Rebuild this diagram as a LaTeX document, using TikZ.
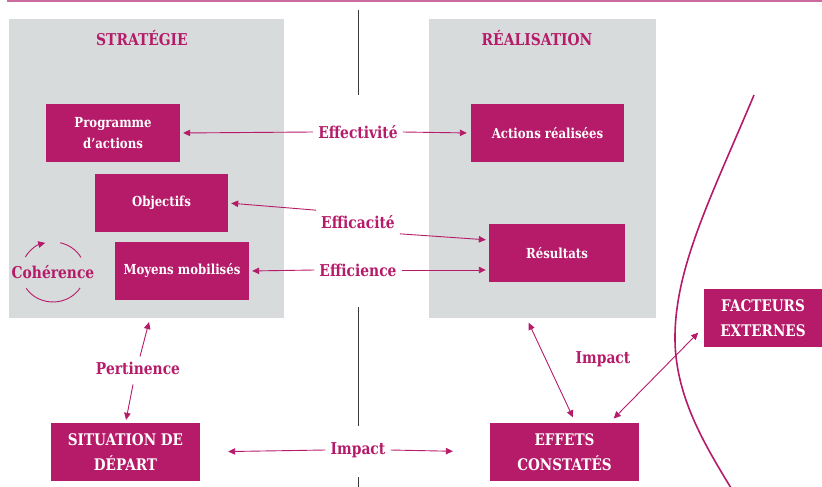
\documentclass[tikz,border=0pt]{standalone}
\usepackage{fontspec}
\setmainfont{DejaVu Serif}[FakeStretch=0.85]
\usepackage{tikz}
\usetikzlibrary{positioning}
\usetikzlibrary{arrows.meta}

\definecolor{plum}{HTML}{B51B69}
\definecolor{panelgray}{HTML}{D8DBDC}
\definecolor{rulepink}{HTML}{CC6A9E}
\definecolor{axisgray}{HTML}{3A3A3A}

\begin{document}
\begin{tikzpicture}[x=1pt, y=1pt,
        panel/.style={rectangle, fill=panelgray, inner sep=0pt},
        box/.style={rectangle, fill=plum, text=white, align=center, inner sep=0pt, minimum height=58pt, font=\bfseries\fontsize{13.8}{20.5}\selectfont},
        capsbox/.style={box, font=\bfseries\fontsize{16}{24.5}\selectfont},
        crit/.style={text=plum, inner sep=5pt, font=\bfseries\fontsize{16.3}{18}\selectfont},
        heading/.style={text=plum, inner sep=0pt, font=\bfseries\fontsize{16.3}{18}\selectfont},
        arr/.style={draw=plum, line width=0.9pt, -{Triangle[length=7pt,width=6.5pt]}},
        dbl/.style={arr, {Triangle[length=7pt,width=6.5pt]}-{Triangle[length=7pt,width=6.5pt]}}]

        \useasboundingbox (0,0) rectangle (822,-487);

        % Frame
        \draw[rulepink, line width=1.5pt] (7,-1) -- (822,-1);
        \draw[axisgray, line width=1pt] (358,-10) -- (358,-95);
        \draw[axisgray, line width=1pt] (358,-307) -- (358,-426);
        \draw[axisgray, line width=1pt] (358,-477) -- (358,-487);
        \draw[plum, line width=1.6pt] (754,-95) .. controls (712,-195) and (676,-265) .. (675,-335)
                                                .. controls (674,-395) and (705,-445) .. (731,-488);

        % Panels
        \node (strat) [panel, minimum width=275pt, minimum height=299pt] at (146.5,-168.5) {};
        \node (real) [panel, minimum width=227pt, minimum height=299pt] at (542.5,-168.5) {};
        \node (stratT) [heading] at (142,-38) {STRATÉGIE};
        \node (realT) [heading] at (537,-38) {RÉALISATION};

        % Nodes
        \node (prog) [box, minimum width=134pt] at (113,-133) {Programme\\d’actions};
        \node (obj) [box, minimum width=133pt] at (161.5,-203) {Objectifs};
        \node (moy) [box, minimum width=134pt] at (182,-271) {Moyens mobilisés};
        \node (act) [box, minimum width=153pt] at (547.5,-133) {Actions réalisées};
        \node (res) [box, minimum width=136pt] at (557,-253) {Résultats};
        \node (fact) [capsbox, minimum width=118pt] at (763,-318) {FACTEURS\\EXTERNES};
        \node (eff) [capsbox, minimum width=149pt] at (564.5,-452) {EFFETS\\CONSTATÉS};
        \node (sit) [capsbox, minimum width=149pt] at (125.5,-452) {SITUATION DE\\DÉPART};

        % Criteria
        \node (effv) [crit] at (358,-132) {Effectivité};
        \node (effc) [crit] at (358,-222) {Efficacité};
        \node (effn) [crit] at (358,-270) {Efficience};
        \node (coh) [crit] at (53,-272) {Cohérence};
        \node (pert) [crit] at (138,-368) {Pertinence};
        \node (impB) [crit] at (358,-450) {Impact};
        \node (impR) [crit] at (603,-359) {Impact};

        % Arrows
        \draw[arr, shorten >=3pt] (effv.west) -- (prog.east);
        \draw[arr, shorten >=4pt] (effv.east) -- (act.west);
        \draw[arr, shorten >=3pt] (effc.north west) -- (obj.east);
        \draw[arr, shorten >=3pt] (effc.south east) -- ([yshift=13pt]res.west);
        \draw[arr, shorten >=3pt] (effn.west) -- (moy.east);
        \draw[arr, shorten >=3pt] (effn.east) -- ([yshift=-17pt]res.west);
        \draw[arr, shorten >=28pt] (impB.west) -- (sit.east);
        \draw[arr, shorten >=37pt] (impB.east) -- (eff.west);
        \draw[arr, shorten >=4pt] ([xshift=2pt]pert.north) -- ([xshift=3.5pt]strat.south);
        \draw[arr, shorten <=5pt, shorten >=3pt] ([xshift=-4pt]pert.south) -- (sit.north);
        \draw[dbl, shorten <=5pt, shorten >=6pt] ([xshift=-16pt]real.south) -- ([xshift=11pt]eff.north);
        \draw[dbl, shorten <=6pt, shorten >=8pt] ([xshift=45pt]eff.north) -- ([yshift=-9pt]fact.west);

        % Coherence loop
        \draw[arr] (coh.center) ++(150:32 and 30) arc[start angle=150, end angle=104, x radius=32, y radius=30];
        \draw[draw=plum, line width=0.9pt] (coh.center) ++(77:32 and 30) arc[start angle=77, end angle=29, x radius=32, y radius=30];
        \draw[draw=plum, line width=0.9pt] (coh.center) ++(213:32 and 30) arc[start angle=213, end angle=328, x radius=32, y radius=30];

\end{tikzpicture}
\end{document}
